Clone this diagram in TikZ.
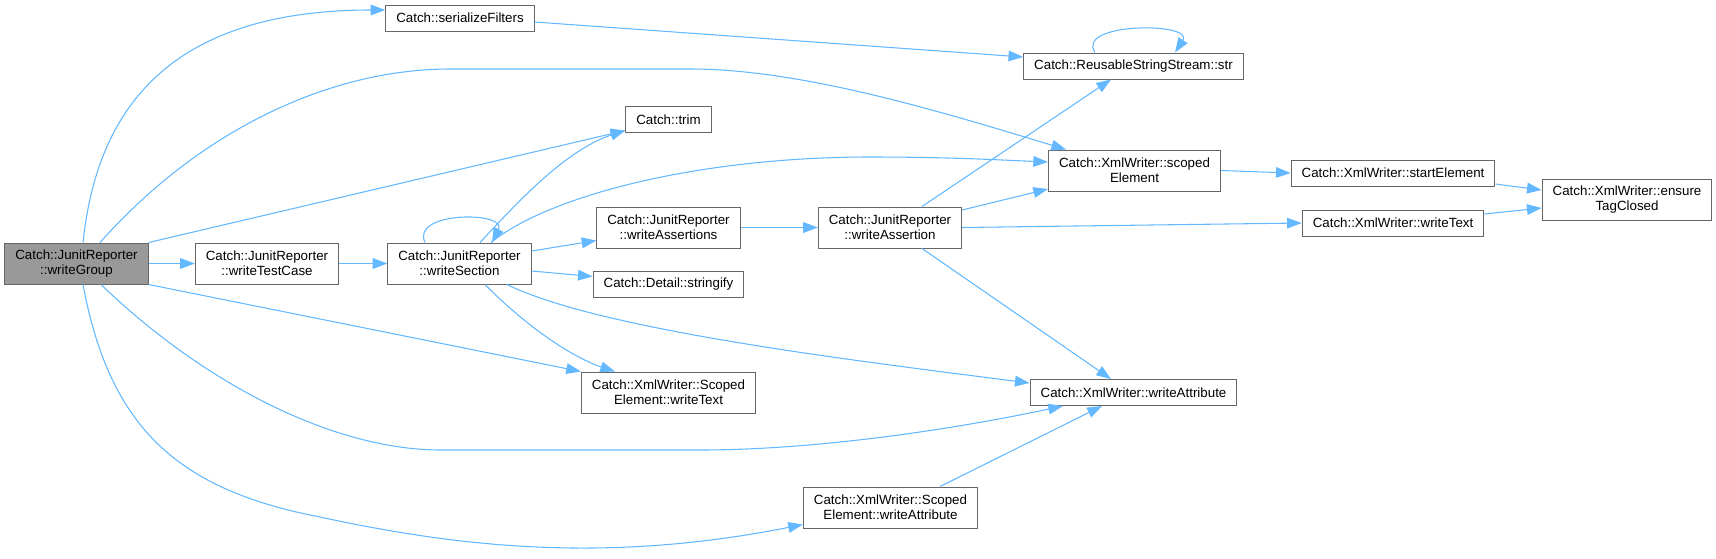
\documentclass[tikz,border=0pt]{standalone}
\usepackage{fontspec}
\setmainfont{Liberation Sans}
\usepackage{tikz}
\usetikzlibrary{arrows.meta,calc}
\definecolor{edgeblue}{HTML}{63B8FF}
\definecolor{boxgray}{HTML}{666666}
\definecolor{focusgray}{HTML}{999999}

\begin{document}
\begin{tikzpicture}[x=0.75pt,y=-0.75pt]
        \useasboundingbox (0,0) rectangle (1716,558);
        \tikzset{FuncStyle/.style={draw=boxgray, fill=white, line width=0.75pt, align=center,
        font=\fontsize{10}{11.25}\selectfont, inner xsep=7.9pt, inner ysep=2pt, minimum height=19.5pt}}
        \tikzset{TwoLine/.style={FuncStyle, minimum height=30.75pt}}
        \tikzset{EdgeStyle/.style={draw=edgeblue, line width=0.8pt, -{Triangle[length=11pt,width=8pt]}}}
        \node[TwoLine, fill=focusgray] (wg) at (76.5,263.5) {Catch::JunitReporter\\::writeGroup};
        \node[TwoLine] (wtc) at (267,263.5) {Catch::JunitReporter\\::writeTestCase};
        \node[TwoLine] (ws) at (459.5,263.5) {Catch::JunitReporter\\::writeSection};
        \node[FuncStyle] (sf) at (460,18) {Catch::serializeFilters};
        \node[FuncStyle] (str) at (1133.5,66) {Catch::ReusableStringStream::str};
        \node[FuncStyle] (trim) at (668.5,119.5) {Catch::trim};
        \node[TwoLine] (se) at (1134.5,170.5) {Catch::XmlWriter::scoped\\Element};
        \node[FuncStyle] (ste) at (1393,173) {Catch::XmlWriter::startElement};
        \node[TwoLine] (etc) at (1627,199.5) {Catch::XmlWriter::ensure\\TagClosed};
        \node[TwoLine] (was) at (668.5,227.5) {Catch::JunitReporter\\::writeAssertions};
        \node[TwoLine] (wa) at (890,227.5) {Catch::JunitReporter\\::writeAssertion};
        \node[FuncStyle] (wt) at (1393,223) {Catch::XmlWriter::writeText};
        \node[FuncStyle] (sy) at (668.5,284.5) {Catch::Detail::stringify};
        \node[TwoLine] (sewt) at (668.5,392.5) {Catch::XmlWriter::Scoped\\Element::writeText};
        \node[FuncStyle] (wat) at (1133.5,392.5) {Catch::XmlWriter::writeAttribute};
        \node[TwoLine] (sewa) at (890.5,507.5) {Catch::XmlWriter::Scoped\\Element::writeAttribute};
        \draw[EdgeStyle] ($(wg.north)+(6.5,0)$) .. controls (95,130) and (150,10) .. ($(sf.west)+(0,-8)$);
        \draw[EdgeStyle] ($(wg.north)+(23.5,0)$) .. controls (200,130) and (330,69) .. (450,69)
            -- (690,69) .. controls (800,69) and (936,110) .. ($(se.north)+(-68.5,0)$);
        \draw[EdgeStyle] (wg.north east) -- ($(trim.west)+(0,11)$);
        \draw[EdgeStyle] (wg.east) -- (wtc.west);
        \draw[EdgeStyle] (wg.south east) -- (sewt.north west);
        \draw[EdgeStyle] ($(wg.south)+(24.5,0)$) .. controls (200,380) and (330,450) .. (441,450)
            -- (700,450) .. controls (820,450) and (960,428) .. ($(wat.south)+(-70.5,0)$);
        \draw[EdgeStyle] ($(wg.south)+(6.5,0)$) .. controls (110,430) and (180,490) .. (320,517)
            .. controls (450,545) and (600,565) .. ($(sewa.west)+(0,17)$);
        \draw[EdgeStyle] ($(sf.east)+(0,4)$) -- ($(str.west)+(0,-9)$);
        \draw[EdgeStyle] ($(str.north)+(-38.5,0)$) .. controls (1075,22) and (1195,22) .. ($(str.north)+(41.5,0)$);
        \draw[EdgeStyle] (wtc.east) -- (ws.west);
        \draw[EdgeStyle] ($(ws.north)+(-34.5,0)$) .. controls (410,211) and (508,211) .. ($(ws.north)+(32.5,0)$);
        \draw[EdgeStyle] ($(ws.north)+(20.5,0)$) .. controls (515,205) and (565,150) .. ($(trim.west)+(0,11)$);
        \draw[EdgeStyle] ($(ws.north)+(31.5,0)$) .. controls (550,195) and (700,157) .. (870,157)
            .. controls (950,157) and (1000,160) .. ($(se.west)+(0,-8.5)$);
        \draw[EdgeStyle] ($(ws.east)+(0,-12.5)$) -- ($(was.west)+(0,13)$);
        \draw[EdgeStyle] ($(ws.east)+(0,7.5)$) -- ($(sy.west)+(0,-8)$);
        \draw[EdgeStyle] ($(ws.south)+(25.5,0)$) .. controls (535,335) and (580,360) .. ($(sewt.north)+(-53.5,0)$);
        \draw[EdgeStyle] ($(ws.south)+(47.5,0)$) .. controls (600,330) and (850,360) .. ($(wat.west)+(0,-9.5)$);
        \draw[EdgeStyle] (was.east) -- (wa.west);
        \draw[EdgeStyle] ($(wa.north)+(32,0)$) -- ($(str.south)+(-22.5,0)$);
        \draw[EdgeStyle] ($(wa.east)+(0,-17.5)$) -- ($(se.west)+(0,18.5)$);
        \draw[EdgeStyle] (wa.east) -- (wt.west);
        \draw[EdgeStyle] ($(wa.south)+(32,0)$) -- ($(wat.north)+(-22.5,0)$);
        \draw[EdgeStyle] (se.east) -- (ste.west);
        \draw[EdgeStyle] ($(ste.east)+(0,11)$) -- ($(etc.west)+(0,-9.5)$);
        \draw[EdgeStyle] ($(wt.east)+(0,-9)$) -- ($(etc.west)+(0,8.5)$);
        \draw[EdgeStyle] ($(sewa.north)+(49.5,0)$) -- ($(wat.south)+(-31.5,0)$);
\end{tikzpicture}
\end{document}
